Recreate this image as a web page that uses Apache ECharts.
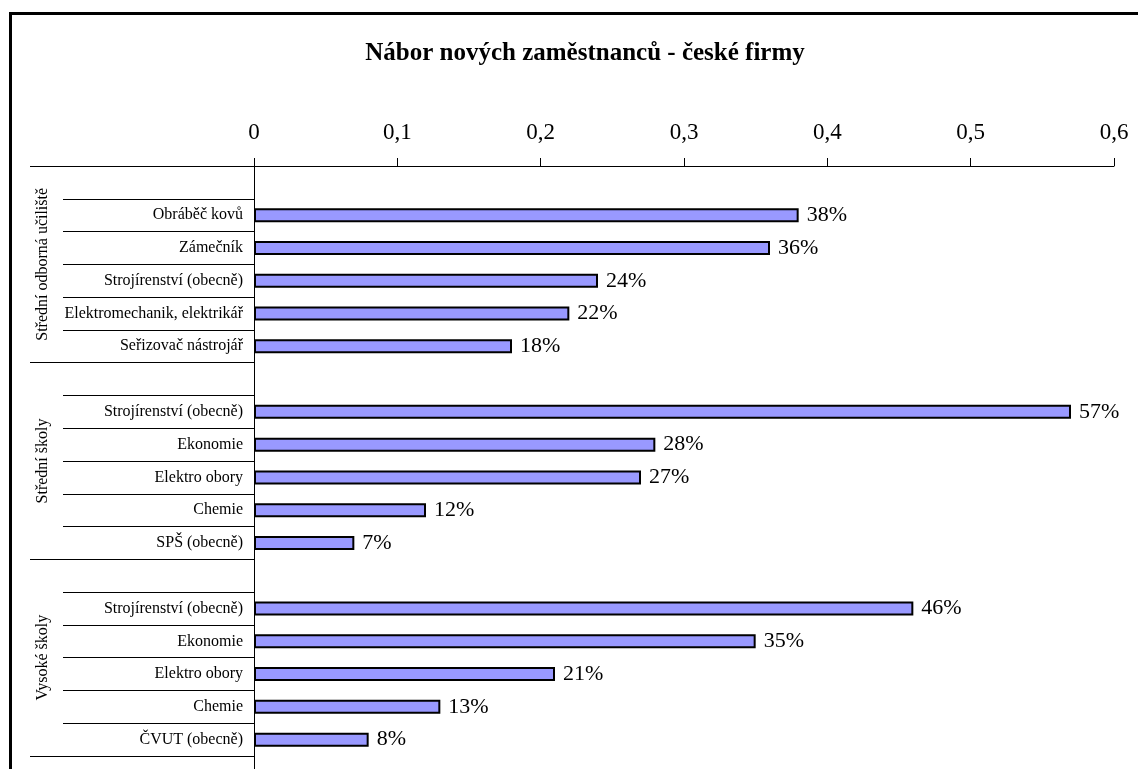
<!DOCTYPE html>
<html>
<head>
<meta charset="utf-8">
<script src="https://cdn.jsdelivr.net/npm/echarts@6/dist/echarts.min.js"></script>
<style>
  html, body { margin: 0; padding: 0; background: #fff; overflow: hidden; }
  #chart { position: absolute; left: 0; top: 0; width: 1138px; height: 800px; }
  #frame { position: absolute; left: 9px; top: 12px; width: 1200px; height: 900px;
           border: 3px solid #000; box-sizing: border-box; pointer-events: none; }
</style>
</head>
<body>
<div id="chart"></div>
<div id="frame"></div>
<script>
// Chart text
const titleText = 'Nábor nových zaměstnanců - české firmy';
const groupNames = ['Střední odborná učiliště', 'Střední školy', 'Vysoké školy'];

// Categories per education level
const souCategories = ['Obráběč kovů', 'Zámečník', 'Strojírenství (obecně)', 'Elektromechanik, elektrikář', 'Seřizovač nástrojář'];
const ssCategories = ['Strojírenství (obecně)', 'Ekonomie', 'Elektro obory', 'Chemie', 'SPŠ (obecně)'];
const vsCategories = ['Strojírenství (obecně)', 'Ekonomie', 'Elektro obory', 'Chemie', 'ČVUT (obecně)'];

// Share of firms hiring (fraction)
const souValues = [0.38, 0.36, 0.24, 0.22, 0.18];
const ssValues = [0.57, 0.28, 0.27, 0.12, 0.07];
const vsValues = [0.46, 0.35, 0.21, 0.13, 0.08];

// Value axis ticks
const xMin = 0, xMax = 0.6, xStep = 0.1;

// Build the slot list: one empty slot before each group, one after the last
const groupCats = [souCategories, ssCategories, vsCategories];
const groupVals = [souValues, ssValues, vsValues];
const slotLabels = [];
const slotValues = [];
const groupBoundaries = [];
const groupCenters = [];
groupCats.forEach(function (cats, g) {
  const start = slotLabels.length;
  groupBoundaries.push(start);
  slotLabels.push('');
  slotValues.push('-');
  cats.forEach(function (c, i) {
    slotLabels.push(c);
    slotValues.push(groupVals[g][i]);
  });
  groupCenters.push((start + slotLabels.length) / 2);
});
groupBoundaries.push(slotLabels.length);
slotLabels.push('');
slotValues.push('-');
const slotKeys = slotLabels.map(function (_, i) { return 'k' + i; });
const nSlots = slotLabels.length;

const serif = '"Liberation Serif", "Times New Roman", serif';
const rowH = 32.78;

const chart = echarts.init(document.getElementById('chart'), null, { renderer: 'canvas' });
chart.setOption({
  backgroundColor: '#ffffff',
  animation: false,
  title: {
    text: titleText,
    left: 580,
    textAlign: 'center',
    top: 36,
    textStyle: { fontFamily: serif, fontSize: 25, fontWeight: 'bold', color: '#000' }
  },
  grid: { left: 254, width: 860, top: 166, height: rowH * nSlots, containLabel: false },
  xAxis: {
    type: 'value',
    position: 'top',
    min: xMin,
    max: xMax,
    interval: xStep,
    axisLine: { show: true, lineStyle: { color: '#000', width: 1 } },
    axisTick: { show: true, length: 8, inside: false, lineStyle: { color: '#000' } },
    splitLine: { show: false },
    axisLabel: {
      margin: 22,
      fontFamily: serif,
      fontSize: 23,
      color: '#000',
      formatter: function (v) { return String(Math.round(v * 10) / 10).replace('.', ','); }
    }
  },
  yAxis: [
    {
      type: 'category',
      inverse: true,
      data: slotKeys,
      axisLine: { show: true, lineStyle: { color: '#000', width: 1 } },
      axisTick: { show: true, interval: 0, length: 191, alignWithLabel: false, lineStyle: { color: '#000' } },
      axisLabel: {
        interval: 0,
        margin: 11,
        fontFamily: serif,
        fontSize: 16,
        color: '#000',
        formatter: function (v, i) { return slotLabels[i]; }
      },
      splitLine: { show: false }
    },
    {
      type: 'value',
      inverse: true,
      min: 0,
      max: nSlots,
      position: 'left',
      axisLine: { show: false },
      splitLine: { show: false },
      axisTick: { show: true, length: 224, customValues: groupBoundaries.slice(0, 4), lineStyle: { color: '#000' } },
      axisLabel: {
        show: true,
        customValues: groupCenters,
        rotate: 90,
        margin: 203,
        fontFamily: serif,
        fontSize: 16,
        color: '#000',
        formatter: function (v) {
          const idx = groupCenters.indexOf(v);
          return idx >= 0 ? groupNames[idx] : '';
        }
      }
    }
  ],
  series: [{
    type: 'bar',
    yAxisIndex: 0,
    data: slotValues,
    barWidth: 14,
    itemStyle: { color: '#9999FF', borderColor: '#000', borderWidth: 2 },
    label: {
      show: true,
      position: 'right',
      distance: 8,
      fontFamily: serif,
      fontSize: 22,
      color: '#000',
      formatter: function (p) { return Math.round(p.value * 100) + '%'; }
    }
  }]
});
</script>
</body>
</html>
